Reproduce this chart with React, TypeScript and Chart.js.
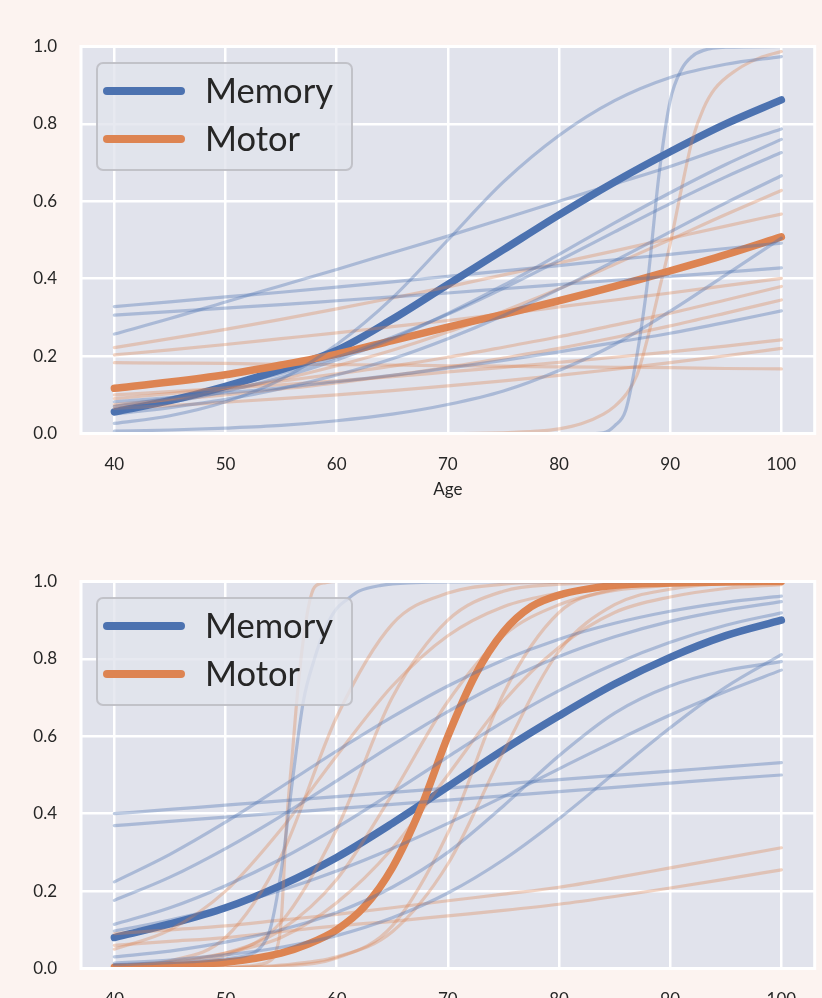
import React, { useEffect, useRef } from "react";
import { Chart, registerables } from "chart.js";

Chart.register(...registerables);

// ---------------- data ----------------
const AGES = [40, 45, 50, 55, 60, 65, 70, 75, 80, 85, 90, 95, 100];
const X_TICKS = [40, 50, 60, 70, 80, 90, 100];
const Y_TICKS = [0, 0.2, 0.4, 0.6, 0.8, 1.0];
const LEGEND_LABELS = ["Memory", "Motor"];
const X_LABEL = "Age";

// top panel
const TOP_MEMORY_MEAN = [0.056, 0.085, 0.122, 0.165, 0.215, 0.295, 0.385, 0.475, 0.565, 0.65, 0.728, 0.8, 0.862];
const TOP_MOTOR_MEAN = [0.117, 0.133, 0.152, 0.177, 0.205, 0.24, 0.275, 0.308, 0.343, 0.38, 0.42, 0.462, 0.508];
const TOP_MEMORY_SUBJECTS = [
  [0.328, 0.34, 0.353, 0.365, 0.378, 0.392, 0.406, 0.42, 0.434, 0.449, 0.463, 0.478, 0.492],
  [0.306, 0.315, 0.324, 0.333, 0.343, 0.353, 0.363, 0.374, 0.385, 0.396, 0.406, 0.417, 0.428],
  [0.257, 0.297, 0.34, 0.382, 0.424, 0.467, 0.51, 0.555, 0.6, 0.645, 0.69, 0.74, 0.787],
  [0.026, 0.046, 0.082, 0.14, 0.23, 0.35, 0.5, 0.65, 0.77, 0.86, 0.92, 0.954, 0.974],
  [0.006, 0.009, 0.014, 0.021, 0.033, 0.05, 0.075, 0.11, 0.163, 0.23, 0.316, 0.41, 0.505],
  [0.082, 0.093, 0.105, 0.118, 0.134, 0.15, 0.169, 0.189, 0.211, 0.235, 0.259, 0.287, 0.317],
  [0.06, 0.081, 0.109, 0.145, 0.19, 0.245, 0.31, 0.383, 0.463, 0.544, 0.622, 0.695, 0.76],
  [0.07, 0.092, 0.12, 0.155, 0.197, 0.249, 0.308, 0.375, 0.447, 0.521, 0.594, 0.663, 0.726],
  [0.05, 0.067, 0.088, 0.116, 0.151, 0.193, 0.245, 0.305, 0.373, 0.446, 0.521, 0.596, 0.666],
];
const TOP_MEMORY_STEEP_AGES = [40, 80, 83, 84, 85, 86, 87, 88, 89, 90, 91, 92, 93, 95, 100];
const TOP_MEMORY_STEEP = [0, 0, 0, 0.002, 0.02, 0.06, 0.2, 0.4, 0.67, 0.86, 0.94, 0.975, 0.99, 0.998, 1.0];
const TOP_MOTOR_SUBJECTS = [
  [0.222, 0.245, 0.269, 0.295, 0.322, 0.35, 0.379, 0.41, 0.441, 0.472, 0.504, 0.536, 0.567],
  [0.203, 0.216, 0.23, 0.245, 0.26, 0.276, 0.292, 0.309, 0.327, 0.345, 0.363, 0.382, 0.401],
  [0.183, 0.182, 0.181, 0.179, 0.178, 0.177, 0.175, 0.174, 0.172, 0.171, 0.17, 0.168, 0.167],
  [0.07, 0.089, 0.112, 0.14, 0.175, 0.215, 0.262, 0.316, 0.374, 0.437, 0.501, 0.566, 0.628],
  [0.09, 0.103, 0.118, 0.135, 0.154, 0.174, 0.197, 0.223, 0.25, 0.28, 0.311, 0.345, 0.38],
  [0.075, 0.087, 0.1, 0.115, 0.131, 0.15, 0.171, 0.195, 0.22, 0.248, 0.278, 0.311, 0.345],
  [0.1, 0.108, 0.117, 0.126, 0.136, 0.147, 0.159, 0.171, 0.184, 0.197, 0.211, 0.226, 0.242],
  [0.065, 0.072, 0.081, 0.09, 0.1, 0.111, 0.123, 0.136, 0.15, 0.166, 0.183, 0.201, 0.22],
];
const TOP_MOTOR_STEEP_AGES = [40, 60, 70, 75, 78, 80, 82, 84, 85, 86, 87, 88, 89, 90, 91, 92, 93, 94, 96, 98, 100];
const TOP_MOTOR_STEEP = [0, 0, 0, 0.002, 0.006, 0.012, 0.025, 0.05, 0.07, 0.1, 0.15, 0.25, 0.37, 0.49, 0.63, 0.76, 0.84, 0.89, 0.94, 0.97, 0.987];

// bottom panel
const BOTTOM_MEMORY_MEAN = [0.08, 0.115, 0.157, 0.215, 0.287, 0.375, 0.47, 0.565, 0.653, 0.735, 0.804, 0.86, 0.9];
const BOTTOM_MOTOR_MEAN_AGES = [40, 45, 50, 55, 57.5, 60, 62.5, 65, 67.5, 70, 72.5, 75, 77.5, 80, 85, 90, 95, 100];
const BOTTOM_MOTOR_MEAN = [0.003, 0.007, 0.016, 0.04, 0.064, 0.1, 0.16, 0.26, 0.41, 0.6, 0.76, 0.87, 0.935, 0.965, 0.99, 0.996, 0.999, 1.0];
const BOTTOM_MEMORY_SUBJECTS = [
  [0.4, 0.411, 0.422, 0.433, 0.444, 0.455, 0.466, 0.477, 0.488, 0.499, 0.51, 0.521, 0.532],
  [0.369, 0.38, 0.391, 0.402, 0.413, 0.424, 0.435, 0.446, 0.457, 0.468, 0.479, 0.49, 0.5],
  [0.224, 0.295, 0.378, 0.469, 0.562, 0.65, 0.73, 0.797, 0.851, 0.892, 0.923, 0.946, 0.962],
  [0.176, 0.236, 0.31, 0.394, 0.485, 0.577, 0.664, 0.741, 0.806, 0.857, 0.897, 0.926, 0.948],
  [0.114, 0.157, 0.214, 0.283, 0.364, 0.454, 0.547, 0.637, 0.718, 0.787, 0.843, 0.887, 0.919],
  [0.014, 0.022, 0.035, 0.055, 0.085, 0.131, 0.195, 0.281, 0.387, 0.505, 0.622, 0.727, 0.811],
  [0.097, 0.125, 0.16, 0.202, 0.252, 0.31, 0.375, 0.444, 0.516, 0.587, 0.655, 0.716, 0.771],
  [0.03, 0.045, 0.068, 0.1, 0.145, 0.21, 0.3, 0.42, 0.55, 0.66, 0.73, 0.77, 0.793],
];
const BOTTOM_MEMORY_STEEP_AGES = [40, 45, 50, 52, 53, 54, 55, 56, 57, 58, 59, 60, 61, 62, 64, 67, 70, 100];
const BOTTOM_MEMORY_STEEP = [0.01, 0.015, 0.025, 0.035, 0.05, 0.1, 0.25, 0.48, 0.69, 0.8, 0.88, 0.93, 0.955, 0.975, 0.99, 0.997, 0.999, 1.0];
const BOTTOM_MOTOR_SUBJECTS = [
  [0.09, 0.1, 0.11, 0.125, 0.14, 0.157, 0.175, 0.192, 0.21, 0.234, 0.26, 0.286, 0.312],
  [0.06, 0.07, 0.08, 0.095, 0.11, 0.122, 0.136, 0.15, 0.166, 0.186, 0.208, 0.231, 0.255],
  [0.05, 0.1, 0.2, 0.36, 0.55, 0.73, 0.86, 0.935, 0.97, 0.987, 0.995, 0.998, 1.0],
  [0.005, 0.02, 0.08, 0.29, 0.65, 0.89, 0.97, 0.993, 0.998, 1.0, 1.0, 1.0, 1.0],
  [0.002, 0.009, 0.034, 0.12, 0.36, 0.7, 0.9, 0.975, 0.993, 0.998, 1.0, 1.0, 1.0],
  [0.006, 0.015, 0.04, 0.1, 0.23, 0.45, 0.69, 0.86, 0.94, 0.977, 0.99, 0.996, 0.999],
  [0.0, 0.0, 0.002, 0.006, 0.027, 0.11, 0.35, 0.71, 0.92, 0.98, 0.995, 0.999, 1.0],
  [0.0, 0.001, 0.003, 0.009, 0.03, 0.095, 0.27, 0.56, 0.82, 0.94, 0.98, 0.995, 0.998],
  [0.008, 0.018, 0.04, 0.08, 0.17, 0.31, 0.5, 0.69, 0.83, 0.92, 0.96, 0.982, 0.992],
];
const BOTTOM_MOTOR_STEEP_AGES = [40, 50, 52, 53, 54, 54.5, 55, 55.5, 56, 56.5, 57, 57.5, 58, 59, 60, 100];
const BOTTOM_MOTOR_STEEP = [0, 0.003, 0.006, 0.01, 0.02, 0.04, 0.12, 0.38, 0.55, 0.72, 0.85, 0.94, 0.985, 0.997, 1.0, 1.0];

// ---------------- styles ----------------
const BLUE = "#4C72B0";
const ORANGE = "#DD8452";
const BLUE_THIN = "rgba(76,114,176,0.37)";
const ORANGE_THIN = "rgba(221,132,82,0.35)";
const PAGE_BG = "#fcf3f0";
const PLOT_BG = "#e1e3ec";
const TEXT = "#262626";
const FONT = "Lato, 'DejaVu Sans', sans-serif";

const W = 822;
const H = 520;
const PLOT_LEFT = 81;
const PLOT_RIGHT = 814.7;
const PLOT_TOP = 46.5;
const PLOT_BOTTOM = 433.5;

type Pt = { x: number; y: number };
const pts = (xs: number[], ys: number[]): Pt[] => ys.map((y, i) => ({ x: xs[i], y }));

function line(color: string, xs: number[], ys: number[], width: number, order: number) {
  return {
    data: pts(xs, ys),
    borderColor: color,
    backgroundColor: color,
    borderWidth: width,
    pointRadius: 0,
    pointHoverRadius: 0,
    cubicInterpolationMode: "monotone" as const,
    borderCapStyle: "round" as const,
    borderJoinStyle: "round" as const,
    fill: false,
    order,
  };
}

type Panel = {
  memMean: number[];
  motorMeanAges: number[];
  motorMean: number[];
  memSubjects: number[][];
  memSteepAges: number[];
  memSteep: number[];
  motorSubjects: number[][];
  motorSteepAges: number[];
  motorSteep: number[];
  showXLabel: boolean;
};

const decorPlugin = {
  id: "decor",
  beforeDraw(chart: any) {
    const { ctx, chartArea: a } = chart;
    ctx.save();
    ctx.fillStyle = PAGE_BG;
    ctx.fillRect(0, 0, chart.width, chart.height);
    ctx.fillStyle = PLOT_BG;
    ctx.fillRect(a.left, a.top, a.right - a.left, a.bottom - a.top);
    ctx.restore();
  },
  afterDatasetsDraw(chart: any) {
    const { ctx, chartArea: a } = chart;
    ctx.save();
    ctx.strokeStyle = "#ffffff";
    ctx.lineWidth = 3;
    ctx.strokeRect(a.left, a.top, a.right - a.left, a.bottom - a.top);
    ctx.restore();
  },
  afterDraw(chart: any, _args: any, opts: any) {
    const { ctx, chartArea: a } = chart;
    ctx.save();
    // legend
    const bx = a.left + 16;
    const by = a.top + 16.5;
    const bw = 255;
    const bh = 107;
    ctx.beginPath();
    ctx.roundRect(bx, by, bw, bh, 6);
    ctx.fillStyle = "rgba(225,227,236,0.8)";
    ctx.fill();
    ctx.lineWidth = 2;
    ctx.strokeStyle = "rgba(190,190,196,0.9)";
    ctx.stroke();

    ctx.font = `100px ${FONT}`;
    const base = ctx.measureText(LEGEND_LABELS[0]).width;
    const size = (100 * 128) / base;
    ctx.font = `${size}px ${FONT}`;
    ctx.textAlign = "left";
    ctx.textBaseline = "middle";
    const colors = [BLUE, ORANGE];
    LEGEND_LABELS.forEach((lab, i) => {
      const yy = by + 28 + i * 48;
      ctx.strokeStyle = colors[i];
      ctx.lineWidth = 8;
      ctx.lineCap = "round";
      ctx.beginPath();
      ctx.moveTo(bx + 10, yy);
      ctx.lineTo(bx + 84, yy);
      ctx.stroke();
      ctx.fillStyle = TEXT;
      ctx.fillText(lab, bx + 108, yy + 1);
    });

    if (opts && opts.showXLabel) {
      ctx.font = `17px ${FONT}`;
      ctx.textAlign = "center";
      ctx.textBaseline = "middle";
      ctx.fillStyle = TEXT;
      ctx.fillText(X_LABEL, (a.left + a.right) / 2, 490);
    }
    ctx.restore();
  },
};

function buildConfig(p: Panel): any {
  const datasets: any[] = [];
  p.memSubjects.forEach((s) => datasets.push(line(BLUE_THIN, AGES, s, 3.2, 0)));
  datasets.push(line(BLUE_THIN, p.memSteepAges, p.memSteep, 3.2, 0));
  p.motorSubjects.forEach((s) => datasets.push(line(ORANGE_THIN, AGES, s, 3.2, 0)));
  datasets.push(line(ORANGE_THIN, p.motorSteepAges, p.motorSteep, 3.2, 0));
  datasets.push(line(ORANGE, p.motorMeanAges, p.motorMean, 7.5, 1));
  datasets.push(line(BLUE, AGES, p.memMean, 7.5, 2));

  return {
    type: "line",
    data: { datasets },
    plugins: [decorPlugin],
    options: {
      responsive: false,
      animation: false,
      events: [],
      layout: { padding: { top: PLOT_TOP, right: W - PLOT_RIGHT, left: 0, bottom: 0 } },
      plugins: {
        legend: { display: false },
        tooltip: { enabled: false },
        decor: { showXLabel: p.showXLabel },
      },
      scales: {
        x: {
          type: "linear",
          min: 37,
          max: 103,
          afterFit: (s: any) => {
            s.height = H - PLOT_BOTTOM;
          },
          afterBuildTicks: (s: any) => {
            s.ticks = X_TICKS.map((v) => ({ value: v }));
          },
          ticks: {
            padding: 21,
            color: TEXT,
            font: { family: FONT, size: 17 },
            callback: (v: any) => String(v),
          },
          grid: { color: "#ffffff", lineWidth: 2.5, drawTicks: false },
          border: { display: false },
        },
        y: {
          type: "linear",
          min: 0,
          max: 1,
          afterFit: (s: any) => {
            s.width = PLOT_LEFT;
          },
          afterBuildTicks: (s: any) => {
            s.ticks = Y_TICKS.map((v) => ({ value: v }));
          },
          ticks: {
            padding: 24,
            color: TEXT,
            font: { family: FONT, size: 17 },
            callback: (v: any) => Number(v).toFixed(1),
          },
          grid: { color: "#ffffff", lineWidth: 2.5, drawTicks: false },
          border: { display: false },
        },
      },
    },
  };
}

const TOP_PANEL: Panel = {
  memMean: TOP_MEMORY_MEAN,
  motorMeanAges: AGES,
  motorMean: TOP_MOTOR_MEAN,
  memSubjects: TOP_MEMORY_SUBJECTS,
  memSteepAges: TOP_MEMORY_STEEP_AGES,
  memSteep: TOP_MEMORY_STEEP,
  motorSubjects: TOP_MOTOR_SUBJECTS,
  motorSteepAges: TOP_MOTOR_STEEP_AGES,
  motorSteep: TOP_MOTOR_STEEP,
  showXLabel: true,
};

const BOTTOM_PANEL: Panel = {
  memMean: BOTTOM_MEMORY_MEAN,
  motorMeanAges: BOTTOM_MOTOR_MEAN_AGES,
  motorMean: BOTTOM_MOTOR_MEAN,
  memSubjects: BOTTOM_MEMORY_SUBJECTS,
  memSteepAges: BOTTOM_MEMORY_STEEP_AGES,
  memSteep: BOTTOM_MEMORY_STEEP,
  motorSubjects: BOTTOM_MOTOR_SUBJECTS,
  motorSteepAges: BOTTOM_MOTOR_STEEP_AGES,
  motorSteep: BOTTOM_MOTOR_STEEP,
  showXLabel: true,
};

function PanelChart({ panel, top }: { panel: Panel; top: number }) {
  const ref = useRef<HTMLCanvasElement | null>(null);
  useEffect(() => {
    if (!ref.current) return;
    const chart = new Chart(ref.current, buildConfig(panel));
    return () => chart.destroy();
  }, [panel]);
  return (
    <canvas
      ref={ref}
      width={W}
      height={H}
      style={{ position: "absolute", left: 0, top, width: W, height: H, display: "block" }}
    />
  );
}

export default function App() {
  useEffect(() => {
    document.body.style.margin = "0";
    document.body.style.background = PAGE_BG;
    document.documentElement.style.overflow = "hidden";
  }, []);
  return (
    <div
      style={{
        position: "fixed",
        left: 0,
        top: 0,
        width: W,
        height: 998,
        overflow: "hidden",
        background: PAGE_BG,
      }}
    >
      <PanelChart panel={TOP_PANEL} top={0} />
      <PanelChart panel={BOTTOM_PANEL} top={535} />
    </div>
  );
}
